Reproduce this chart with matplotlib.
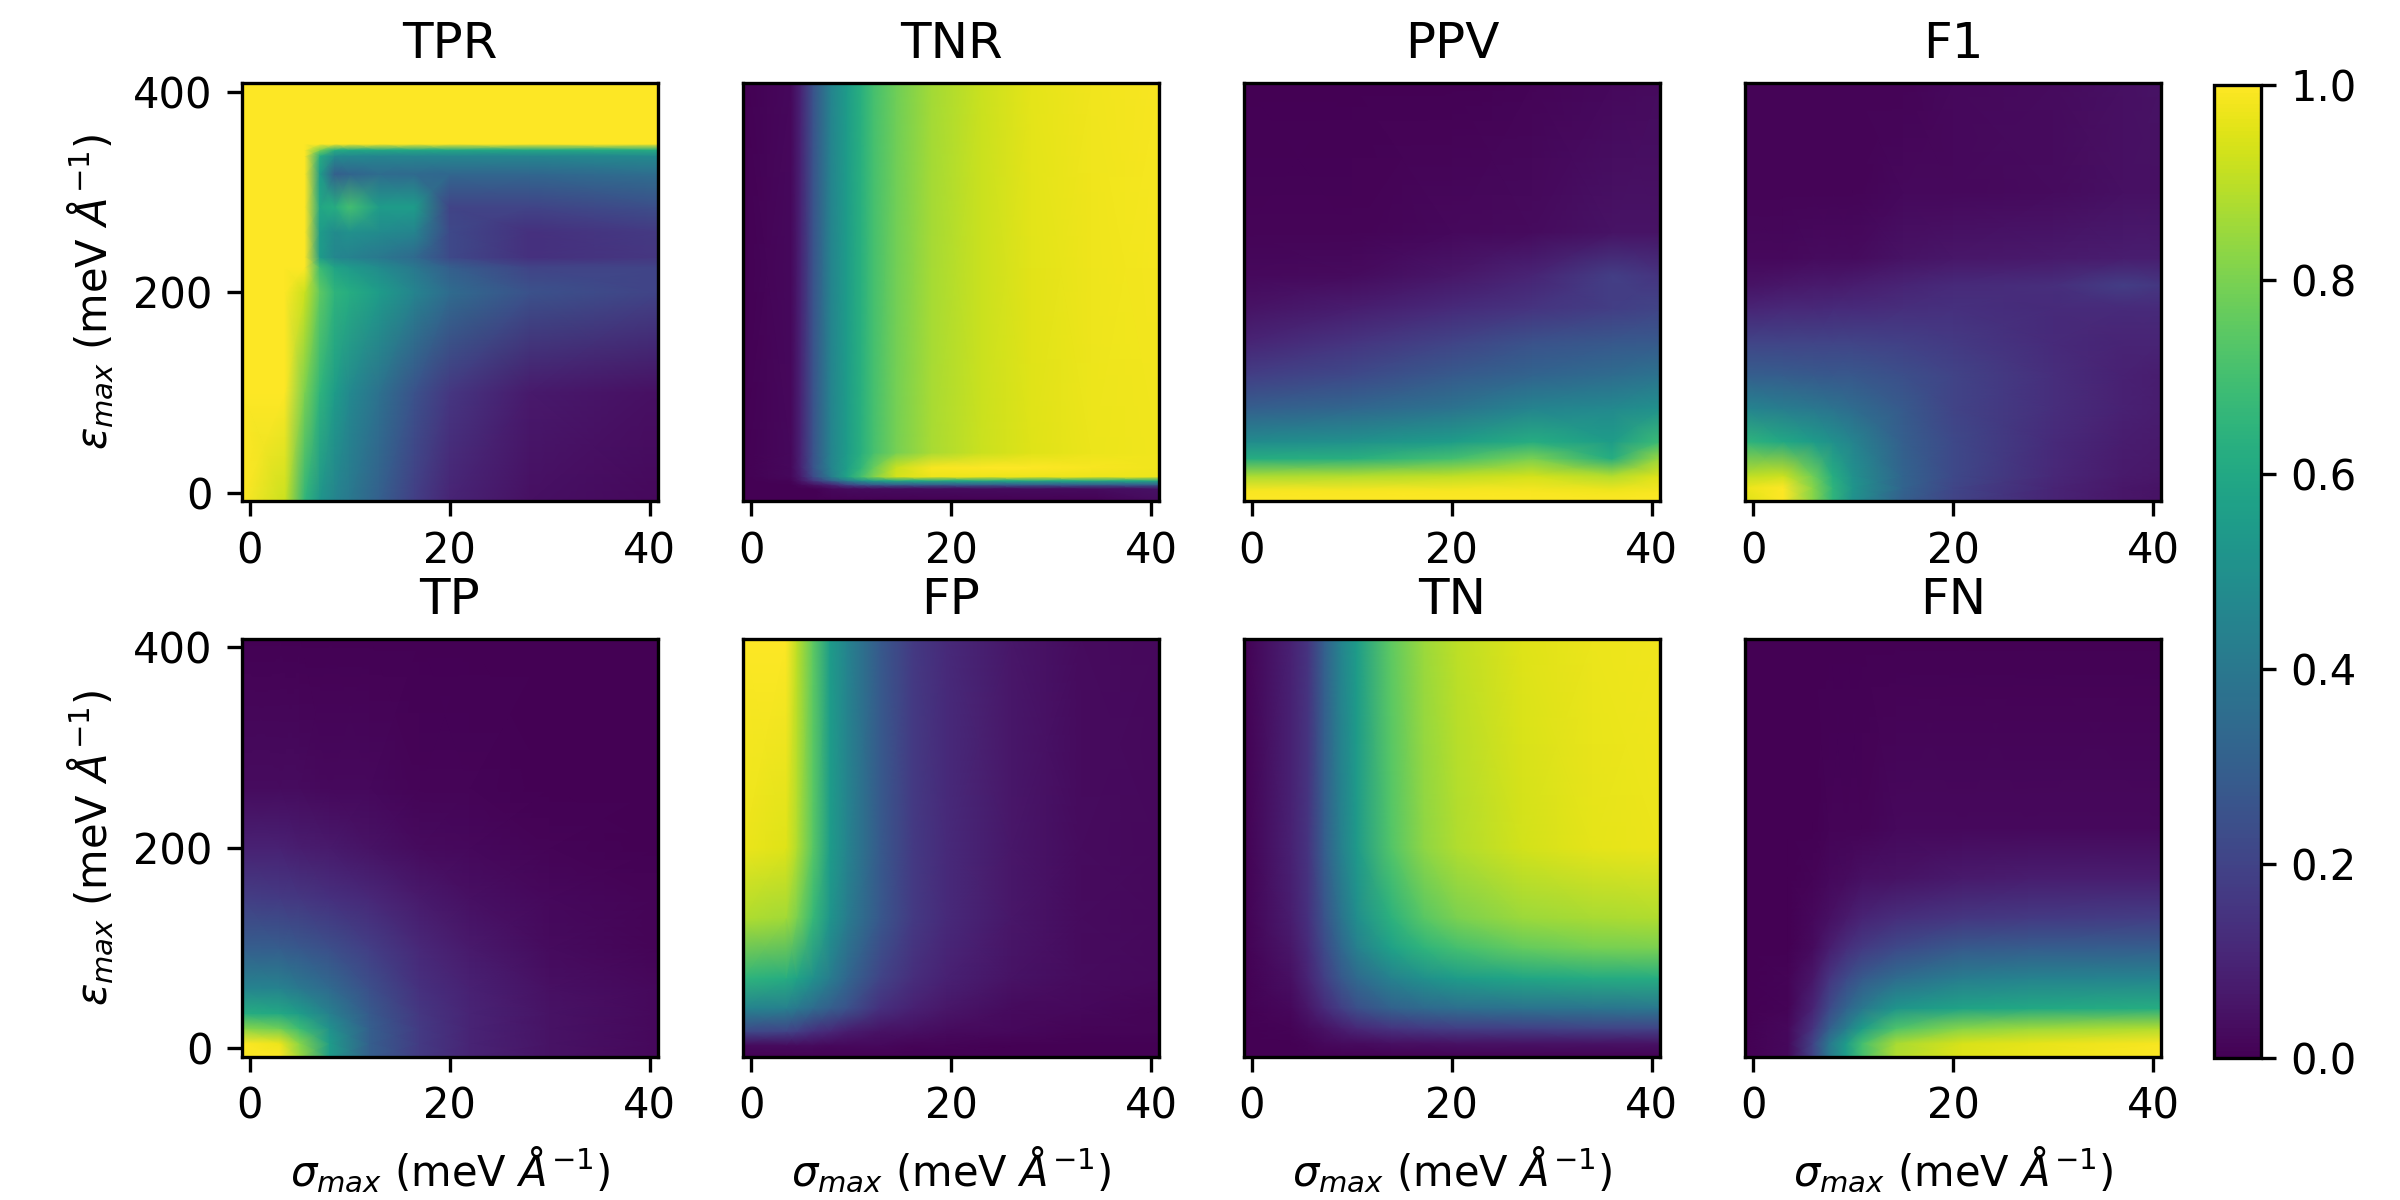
import matplotlib
matplotlib.use('Agg')
import matplotlib.pyplot as plt
import numpy as np

# sigma_max / eps_max sample points per panel
tpr_s = [-0.8, 3.5, 5.5, 7, 8.5, 10, 13, 16.5, 20, 28, 40.8]
tpr_e = [-8.3, 100, 200, 225, 235, 260, 285, 318, 336, 342, 348, 408.3]
tpr = [
    [1.0, 0.92, 0.65, 0.52, 0.45, 0.40, 0.30, 0.18, 0.10, 0.04, 0.02],
    [1.0, 1.0, 0.80, 0.65, 0.55, 0.47, 0.37, 0.25, 0.16, 0.07, 0.04],
    [1.0, 1.0, 0.92, 0.75, 0.65, 0.62, 0.55, 0.45, 0.35, 0.25, 0.20],
    [1.0, 1.0, 1.0, 0.68, 0.58, 0.54, 0.48, 0.40, 0.30, 0.20, 0.20],
    [1.0, 1.0, 1.0, 0.55, 0.46, 0.44, 0.40, 0.34, 0.22, 0.14, 0.16],
    [1.0, 1.0, 1.0, 0.55, 0.48, 0.50, 0.48, 0.45, 0.22, 0.14, 0.17],
    [1.0, 1.0, 1.0, 0.60, 0.62, 0.70, 0.55, 0.55, 0.20, 0.20, 0.24],
    [1.0, 1.0, 1.0, 0.55, 0.30, 0.32, 0.35, 0.34, 0.33, 0.33, 0.36],
    [1.0, 1.0, 1.0, 0.62, 0.48, 0.47, 0.46, 0.46, 0.46, 0.46, 0.48],
    [1.0, 1.0, 1.0, 0.80, 0.62, 0.60, 0.60, 0.60, 0.60, 0.60, 0.62],
    [1.0, 1.0, 1.0, 1.0, 1.0, 1.0, 1.0, 1.0, 1.0, 1.0, 1.0],
    [1.0, 1.0, 1.0, 1.0, 1.0, 1.0, 1.0, 1.0, 1.0, 1.0, 1.0],
]

tnr_s = [-0.8, 4, 5, 6.2, 8, 9.6, 11, 12.2, 14.5, 18, 23, 28, 34, 40.8]
tnr_e = [-8.3, 4, 8, 12, 16, 25, 40, 408.3]
tnr = [
    [0.0, 0.0, 0.0, 0.0, 0.0, 0.0, 0.0, 0.0, 0.0, 0.0, 0.0, 0.0, 0.0, 0.03],
    [0.0, 0.0, 0.0, 0.0, 0.02, 0.03, 0.03, 0.03, 0.03, 0.03, 0.03, 0.03, 0.03, 0.05],
    [0.0, 0.0, 0.02, 0.05, 0.10, 0.20, 0.25, 0.28, 0.30, 0.30, 0.30, 0.30, 0.30, 0.30],
    [0.0, 0.01, 0.06, 0.15, 0.30, 0.42, 0.50, 0.55, 0.60, 0.60, 0.60, 0.60, 0.60, 0.60],
    [0.0, 0.02, 0.08, 0.22, 0.42, 0.58, 0.70, 0.80, 0.93, 0.97, 0.97, 0.97, 0.97, 0.97],
    [0.0, 0.02, 0.10, 0.25, 0.45, 0.56, 0.66, 0.76, 0.92, 0.99, 1.0, 1.0, 0.99, 0.98],
    [0.0, 0.02, 0.10, 0.25, 0.45, 0.55, 0.63, 0.70, 0.79, 0.87, 0.92, 0.95, 0.97, 0.98],
    [0.0, 0.02, 0.10, 0.25, 0.45, 0.55, 0.63, 0.70, 0.78, 0.86, 0.92, 0.96, 0.98, 0.99],
]

ppv_s = [-0.8, 10, 20, 28, 36, 40.8]
ppv_e = [-8.3, 2, 17, 34, 51, 84, 117, 150, 184, 217, 260, 408.3]
ppv = [
    [1.0, 1.0, 1.0, 1.0, 1.0, 1.0],
    [0.99, 0.99, 0.99, 0.99, 0.98, 0.99],
    [0.87, 0.88, 0.90, 0.93, 0.88, 0.95],
    [0.62, 0.63, 0.70, 0.80, 0.62, 0.85],
    [0.48, 0.50, 0.55, 0.62, 0.55, 0.68],
    [0.30, 0.33, 0.38, 0.45, 0.47, 0.50],
    [0.18, 0.22, 0.28, 0.32, 0.35, 0.38],
    [0.10, 0.15, 0.20, 0.25, 0.27, 0.28],
    [0.05, 0.08, 0.12, 0.15, 0.18, 0.20],
    [0.02, 0.03, 0.06, 0.10, 0.18, 0.15],
    [0.01, 0.01, 0.02, 0.03, 0.05, 0.05],
    [0.0, 0.0, 0.0, 0.01, 0.02, 0.03],
]

f1_s = [-0.8, 3, 6, 8, 10, 15, 20, 30, 37, 40.8]
f1_e = [-8.3, 5, 17, 51, 84, 117, 150, 184, 207, 234, 300, 408.3]
f1 = [
    [0.95, 1.0, 0.82, 0.65, 0.50, 0.30, 0.20, 0.10, 0.06, 0.05],
    [0.97, 1.0, 0.82, 0.65, 0.52, 0.32, 0.21, 0.10, 0.06, 0.05],
    [0.90, 0.92, 0.78, 0.62, 0.50, 0.32, 0.22, 0.11, 0.07, 0.06],
    [0.65, 0.60, 0.55, 0.50, 0.45, 0.30, 0.22, 0.12, 0.08, 0.07],
    [0.45, 0.42, 0.40, 0.38, 0.35, 0.28, 0.20, 0.13, 0.09, 0.08],
    [0.30, 0.29, 0.28, 0.27, 0.27, 0.24, 0.20, 0.13, 0.09, 0.08],
    [0.20, 0.20, 0.20, 0.20, 0.20, 0.19, 0.17, 0.12, 0.10, 0.10],
    [0.10, 0.11, 0.11, 0.12, 0.12, 0.13, 0.14, 0.12, 0.12, 0.12],
    [0.05, 0.06, 0.07, 0.07, 0.08, 0.10, 0.12, 0.13, 0.18, 0.16],
    [0.02, 0.02, 0.03, 0.03, 0.03, 0.05, 0.06, 0.07, 0.08, 0.08],
    [0.01, 0.01, 0.01, 0.01, 0.01, 0.02, 0.02, 0.03, 0.04, 0.04],
    [0.01, 0.01, 0.01, 0.01, 0.01, 0.01, 0.02, 0.03, 0.04, 0.05],
]

tp_s = [-0.8, 3, 5, 8, 12, 17, 22, 30, 40.8]
tp_e = [-8.3, 5, 20, 35, 60, 100, 150, 200, 260, 408.3]
tp = [
    [1.0, 1.0, 0.85, 0.55, 0.30, 0.17, 0.10, 0.05, 0.02],
    [1.0, 0.97, 0.82, 0.55, 0.30, 0.17, 0.10, 0.05, 0.02],
    [0.82, 0.78, 0.68, 0.50, 0.30, 0.17, 0.10, 0.05, 0.02],
    [0.62, 0.60, 0.55, 0.43, 0.28, 0.16, 0.10, 0.05, 0.02],
    [0.45, 0.44, 0.40, 0.34, 0.24, 0.14, 0.09, 0.04, 0.02],
    [0.30, 0.29, 0.27, 0.24, 0.18, 0.11, 0.07, 0.03, 0.01],
    [0.18, 0.17, 0.16, 0.14, 0.11, 0.07, 0.04, 0.02, 0.01],
    [0.09, 0.09, 0.08, 0.07, 0.05, 0.03, 0.02, 0.01, 0.0],
    [0.03, 0.03, 0.03, 0.02, 0.02, 0.01, 0.01, 0.0, 0.0],
    [0.0, 0.0, 0.0, 0.0, 0.0, 0.0, 0.0, 0.0, 0.0],
]

fp_s = [-0.8, 3.5, 4.6, 6.2, 7.9, 9.6, 12.9, 16.2, 19.5, 26, 33, 40.8]
fp_e = [-8.3, 3, 17, 40, 70, 130, 200, 408.3]
fp = [
    [0.0, 0.0, 0.0, 0.0, 0.0, 0.0, 0.0, 0.0, 0.0, 0.0, 0.0, 0.0],
    [0.03, 0.03, 0.03, 0.03, 0.02, 0.02, 0.02, 0.01, 0.01, 0.0, 0.0, 0.0],
    [0.22, 0.20, 0.18, 0.14, 0.11, 0.08, 0.05, 0.04, 0.03, 0.02, 0.01, 0.01],
    [0.45, 0.43, 0.40, 0.35, 0.30, 0.25, 0.14, 0.09, 0.06, 0.03, 0.02, 0.01],
    [0.65, 0.62, 0.58, 0.50, 0.42, 0.33, 0.20, 0.13, 0.09, 0.05, 0.03, 0.02],
    [0.88, 0.86, 0.80, 0.67, 0.52, 0.42, 0.27, 0.17, 0.12, 0.06, 0.03, 0.02],
    [0.97, 0.95, 0.88, 0.74, 0.55, 0.45, 0.28, 0.17, 0.12, 0.06, 0.03, 0.02],
    [1.0, 1.0, 0.90, 0.75, 0.55, 0.45, 0.28, 0.17, 0.12, 0.06, 0.03, 0.02],
]

tn_s = [-0.8, 3.9, 5.6, 7.2, 8.9, 10.5, 13.9, 17.2, 20.5, 27, 34, 40.8]
tn_e = [-8.3, 5, 20, 40, 70, 100, 130, 200, 408.3]
tn = [
    [0.0, 0.0, 0.0, 0.0, 0.0, 0.0, 0.0, 0.0, 0.0, 0.0, 0.0, 0.0],
    [0.0, 0.0, 0.01, 0.02, 0.03, 0.03, 0.04, 0.04, 0.05, 0.05, 0.05, 0.05],
    [0.0, 0.01, 0.03, 0.05, 0.08, 0.11, 0.15, 0.17, 0.18, 0.19, 0.20, 0.20],
    [0.0, 0.02, 0.06, 0.12, 0.18, 0.24, 0.31, 0.34, 0.36, 0.38, 0.39, 0.40],
    [0.0, 0.04, 0.10, 0.18, 0.27, 0.34, 0.44, 0.50, 0.55, 0.59, 0.61, 0.62],
    [0.0, 0.06, 0.12, 0.22, 0.33, 0.43, 0.57, 0.65, 0.70, 0.76, 0.79, 0.80],
    [0.0, 0.08, 0.14, 0.25, 0.38, 0.49, 0.64, 0.74, 0.80, 0.85, 0.87, 0.88],
    [0.0, 0.09, 0.15, 0.29, 0.43, 0.54, 0.73, 0.83, 0.88, 0.93, 0.96, 0.97],
    [0.0, 0.09, 0.15, 0.30, 0.45, 0.55, 0.75, 0.85, 0.90, 0.95, 0.97, 0.98],
]

fn_s = [-0.8, 3.5, 6, 7.6, 9.3, 10.9, 14.3, 20.9, 27.5, 40.8]
fn_e = [-8.3, 5, 20, 40, 70, 100, 130, 170, 220, 408.3]
fn = [
    [0.0, 0.02, 0.20, 0.40, 0.55, 0.70, 0.88, 0.95, 0.97, 1.0],
    [0.0, 0.02, 0.20, 0.40, 0.55, 0.70, 0.87, 0.94, 0.96, 0.99],
    [0.0, 0.02, 0.15, 0.30, 0.42, 0.55, 0.72, 0.82, 0.85, 0.88],
    [0.0, 0.01, 0.10, 0.22, 0.32, 0.40, 0.52, 0.58, 0.60, 0.62],
    [0.0, 0.01, 0.06, 0.15, 0.22, 0.28, 0.35, 0.42, 0.44, 0.45],
    [0.0, 0.0, 0.03, 0.08, 0.13, 0.17, 0.22, 0.28, 0.29, 0.30],
    [0.0, 0.0, 0.02, 0.04, 0.07, 0.10, 0.13, 0.16, 0.17, 0.18],
    [0.0, 0.0, 0.01, 0.02, 0.03, 0.04, 0.05, 0.07, 0.08, 0.08],
    [0.0, 0.0, 0.0, 0.01, 0.01, 0.01, 0.02, 0.02, 0.02, 0.02],
    [0.0, 0.0, 0.0, 0.0, 0.0, 0.0, 0.0, 0.0, 0.0, 0.0],
]

titles = ['TPR', 'TNR', 'PPV', 'F1', 'TP', 'FP', 'TN', 'FN']
grids = [(tpr_s, tpr_e, tpr), (tnr_s, tnr_e, tnr), (ppv_s, ppv_e, ppv), (f1_s, f1_e, f1),
         (tp_s, tp_e, tp), (fp_s, fp_e, fp), (tn_s, tn_e, tn), (fn_s, fn_e, fn)]

fig = plt.figure(figsize=(8, 4), dpi=300)

lefts = [0.1008, 0.3096, 0.5183, 0.7271]
bottoms = [0.5825, 0.1194]
w, h = 0.1733, 0.348

for i, (title, (s, e, z)) in enumerate(zip(titles, grids)):
    row, col = divmod(i, 4)
    ax = fig.add_axes([lefts[col], bottoms[row], w, h])
    mesh = ax.pcolormesh(s, e, np.array(z), shading='gouraud', cmap='viridis', vmin=0, vmax=1)
    ax.set_xlim(-0.8, 40.8)
    ax.set_ylim(-8.3, 408.3)
    ax.set_xticks([0, 20, 40])
    ax.set_title(title)
    if col == 0:
        ax.set_yticks([0, 200, 400])
        ax.set_ylabel(r'$\varepsilon_{max}$ (meV $\AA^{-1}$)')
    else:
        ax.set_yticks([])
    if row == 1:
        ax.set_xlabel(r'$\sigma_{max}$ (meV $\AA^{-1}$)')

cax = fig.add_axes([0.9225, 0.118, 0.0196, 0.811])
cb = fig.colorbar(mesh, cax=cax)
cb.set_ticks([0.0, 0.2, 0.4, 0.6, 0.8, 1.0])

fig.savefig('out.png', dpi=300)
